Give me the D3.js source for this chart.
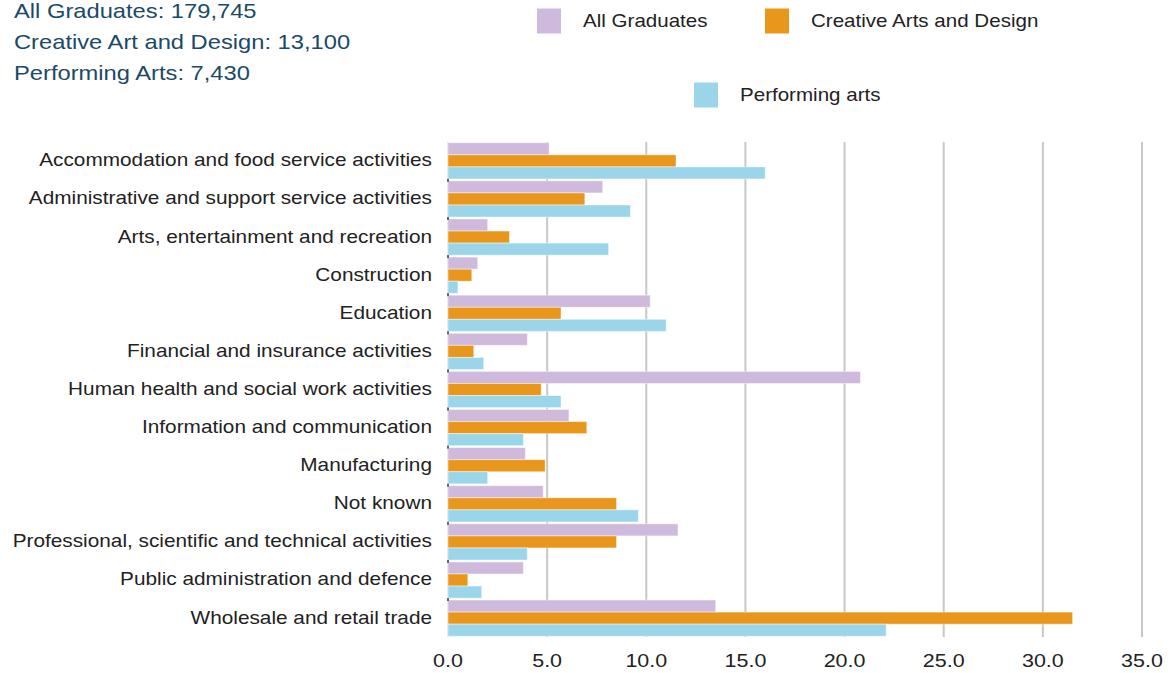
<!DOCTYPE html>
<html>
<head>
<meta charset="utf-8">
<script src="https://cdn.jsdelivr.net/npm/d3@7"></script>
<style>
  html, body { margin: 0; padding: 0; background: #fff; }
  svg { display: block; font-family: "Liberation Sans", Arial, sans-serif; }
</style>
</head>
<body>
<svg id="chart" width="1173" height="673"></svg>
<script>
// Sector of employment, % of graduates in each group
const categories = [
  "Accommodation and food service activities",
  "Administrative and support service activities",
  "Arts, entertainment and recreation",
  "Construction",
  "Education",
  "Financial and insurance activities",
  "Human health and social work activities",
  "Information and communication",
  "Manufacturing",
  "Not known",
  "Professional, scientific and technical activities",
  "Public administration and defence",
  "Wholesale and retail trade"
];
const seriesNames = ["All Graduates", "Creative Arts and Design", "Performing arts"];
const allGraduates   = [5.1, 7.8, 2.0, 1.5, 10.2, 4.0, 20.8, 6.1, 3.9, 4.8, 11.6, 3.8, 13.5];
const creativeArts   = [11.5, 6.9, 3.1, 1.2, 5.7, 1.3, 4.7, 7.0, 4.9, 8.5, 8.5, 1.0, 31.5];
const performingArts = [16.0, 9.2, 8.1, 0.5, 11.0, 1.8, 5.7, 3.8, 2.0, 9.6, 4.0, 1.7, 22.1];
const xTicks = [0, 5, 10, 15, 20, 25, 30, 35];
const totals = ["All Graduates: 179,745", "Creative Art and Design: 13,100", "Performing Arts: 7,430"];
const colors = ["#cfb9dc", "#e8971c", "#9ad5ea"];

const seriesValues = [allGraduates, creativeArts, performingArts];
const svg = d3.select("#chart");

const plot = { left: 448, right: 1142, top: 142, bottom: 637 };
// Text is set slightly wide
const stretch = 1.13;

const x = d3.scaleLinear().domain([0, 35]).range([plot.left, plot.right]);
const y = d3.scaleBand().domain(categories).range([plot.top, plot.bottom]).paddingInner(0.05).paddingOuter(0.02);
const ySub = d3.scaleBand().domain(seriesNames).range([0, y.bandwidth()]);

// Place a text element at (px, py) with horizontal stretch
function wideText(sel, px, py) {
  return sel.attr("transform", (d, i) => `translate(${px(d, i)},${py(d, i)}) scale(${stretch},1)`);
}

// Vertical gridlines
svg.append("g").selectAll("line")
  .data(xTicks)
  .join("line")
  .attr("x1", d => x(d)).attr("x2", d => x(d))
  .attr("y1", plot.top).attr("y2", plot.bottom)
  .attr("stroke", d => d === 0 ? "#e6e6e6" : "#c8c8c8")
  .attr("stroke-width", 2);

// Bars
const groups = svg.append("g").selectAll("g")
  .data(categories)
  .join("g")
  .attr("transform", d => `translate(0,${y(d)})`);

groups.selectAll("rect")
  .data((c, i) => seriesNames.map((s, j) => ({ s, j, v: seriesValues[j][i] })))
  .join("rect")
  .attr("x", x(0))
  .attr("y", d => ySub(d.s))
  .attr("width", d => x(d.v) - x(0))
  .attr("height", ySub.bandwidth())
  .attr("fill", d => colors[d.j])
  .attr("stroke", "#ffffff")
  .attr("stroke-opacity", 0.45)
  .attr("stroke-width", 1);

// Small markers along the category axis
svg.append("g").selectAll("rect")
  .data(categories.slice(1))
  .join("rect")
  .attr("x", plot.left - 1).attr("y", d => y(d) - 2)
  .attr("width", 2).attr("height", 3)
  .attr("fill", "#666");

// Category labels
wideText(svg.append("g").selectAll("text")
  .data(categories)
  .join("text"), () => 432, d => y(d) + y.bandwidth() / 2 - 1)
  .attr("dy", "0.35em")
  .attr("text-anchor", "end")
  .attr("font-size", 18.4)
  .attr("fill", "#222")
  .text(d => d);

// X tick labels
wideText(svg.append("g").selectAll("text")
  .data(xTicks)
  .join("text"), d => x(d), () => 660)
  .attr("dy", "0.35em")
  .attr("text-anchor", "middle")
  .attr("font-size", 19)
  .attr("fill", "#222")
  .text(d => d3.format(".1f")(d));

// Group totals
wideText(svg.append("g").selectAll("text")
  .data(totals)
  .join("text"), () => 14, (d, i) => 18 + i * 31)
  .attr("font-size", 21)
  .attr("fill", "#1b4a68")
  .text(d => d);

// Legend
const legendItems = [
  { name: seriesNames[0], color: colors[0], sx: 537, cy: 21 },
  { name: seriesNames[1], color: colors[1], sx: 765, cy: 21 },
  { name: seriesNames[2], color: colors[2], sx: 694, cy: 95 }
];
const legend = svg.append("g").selectAll("g")
  .data(legendItems)
  .join("g");
legend.append("rect")
  .attr("x", d => d.sx).attr("y", d => d.cy - 12.5)
  .attr("width", 24).attr("height", 25)
  .attr("fill", d => d.color);
wideText(legend.append("text"), d => d.sx + 46, d => d.cy)
  .attr("dy", "0.35em")
  .attr("font-size", 18.2)
  .attr("fill", "#222")
  .text(d => d.name);
</script>
</body>
</html>
